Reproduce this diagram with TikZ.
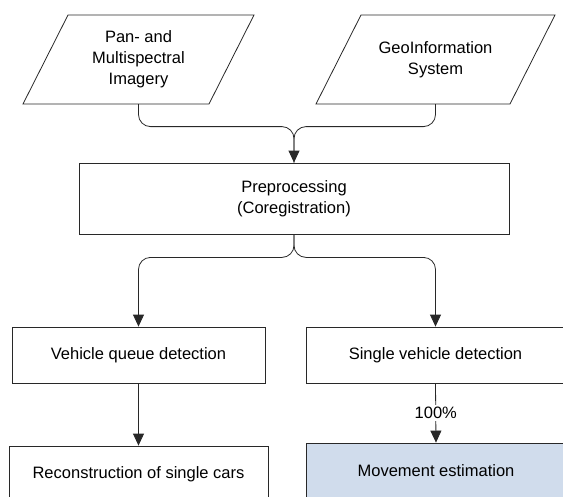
\documentclass[tikz,border=0pt]{standalone}
\usepackage{fontspec}
\setmainfont{Liberation Sans}
\usetikzlibrary{arrows.meta,calc}
\definecolor{lineclr}{RGB}{40,40,40}
\definecolor{hilite}{RGB}{208,220,236}
\tikzset{
  txt/.style={font=\fontsize{16.5}{21}\selectfont, align=center, inner sep=0pt, text=black},
  box/.style={txt, draw=lineclr, line width=0.8pt, rectangle, minimum height=56pt},
  paranode/.style={txt, rectangle, minimum height=89pt},
  paraline/.style={draw=lineclr, line width=0.8pt, fill=white},
  conn/.style={draw=lineclr, line width=0.8pt, rounded corners=12pt},
  tip/.style={-{Triangle[length=12pt,width=11pt]}}
}
\begin{document}
\begin{tikzpicture}[x=1pt,y=-1pt]
\useasboundingbox (0,0) rectangle (563,496);
% parallelograms
\draw[paraline] (68,15) -- (254,15) -- (209,104) -- (23,104) -- cycle;
\draw[paraline] (361,15) -- (555,15) -- (510,104) -- (316,104) -- cycle;
\node[paranode] (p1) at (138.5,59.5) {Pan- and\\Multispectral\\Imagery};
\node[paranode] (p2) at (435.5,59.5) {GeoInformation\\System};
% boxes
\node[box, minimum width=430pt, minimum height=71pt] (pre) at (294,198.5) {Preprocessing\\(Coregistration)};
\node[box, minimum width=253pt] (queue) at (138.5,355) {Vehicle queue detection};
\node[box, minimum width=259pt] (single) at (435.5,355) {Single vehicle detection};
\node[box, minimum width=259pt] (recon) at (138.5,474) {Reconstruction of single cars};
\node[box, minimum width=259pt, fill=hilite] (move) at (436,471) {Movement estimation};
% connectors
\coordinate (j) at ($(pre.north)+(0,-36)$);
\coordinate (k) at ($(pre.south)+(0,23)$);
\draw[conn] (p1.south) |- (j) -- (pre.north);
\draw[conn,tip] (p2.south) |- (j) -- (pre.north);
\draw[conn,tip] (pre.south) -- (k) -| (queue.north);
\draw[conn,tip] (pre.south) -- (k) -| (single.north);
\draw[conn,tip] (queue.south) -- (recon.north);
\draw[conn,tip] (single.south) -- node[txt, fill=white, inner sep=2pt] (pct) {100\%} (move.north);
\end{tikzpicture}
\end{document}
